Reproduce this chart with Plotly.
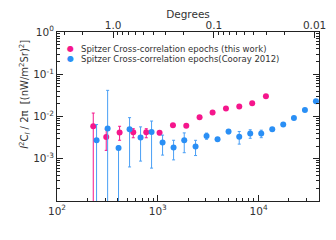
import plotly.graph_objects as go

# ---- data ----
pink_ell = [229, 308, 418, 571, 769, 1042, 1415, 1918, 2600, 3500, 4750, 6440, 8650, 11840]
pink_val = [0.00587, 0.00328, 0.00417, 0.00424, 0.00424, 0.0041, 0.0062, 0.00603,
            0.00957, 0.01236, 0.01537, 0.01714, 0.0205, 0.030]
pink_up = [0.0062, 0.0017, 0.0017, 0.0009, 0.0009, 0.0004, 0, 0, 0, 0, 0, 0, 0, 0]
pink_dn = [0.0060, 0.0017, 0.00143, 0.0011, 0.0011, 0.0004, 0, 0, 0, 0, 0, 0, 0, 0]

blue_ell = [247, 318, 408, 525, 675, 868, 1116, 1435, 1831, 2371, 3048, 3920, 5039,
            6433, 8270, 10640, 13680, 17580, 22450, 28860, 37100]
blue_val = [0.00274, 0.00518, 0.0018, 0.00499, 0.00318, 0.0043, 0.00242, 0.00184,
            0.00274, 0.00196, 0.00347, 0.0029, 0.0044, 0.00332, 0.00395, 0.00395,
            0.00499, 0.00647, 0.00922, 0.01425, 0.0229]
blue_up = [0.0037, 0.0364, 0.0002, 0.0044, 0.0025, 0.0035, 0.0012, 0.0009, 0.00135,
           0.00077, 0.00058, 0, 0.0005, 0.0011, 0.0009, 0.0008, 0.0004, 0, 0, 0, 0]
blue_dn = [0.0030, 0.0060, 0.0020, 0.00435, 0.0023, 0.0037, 0.0012, 0.0009, 0.00135,
           0.00077, 0.00058, 0, 0.0005, 0.0011, 0.0009, 0.0008, 0.0004, 0, 0, 0, 0]

legend_labels = ["Spitzer Cross-correlation epochs (this work)",
                 "Spitzer Cross-correlation epochs(Cooray 2012)"]

x_ticks = [100, 1000, 10000]
x_ticktext = ["10<sup>2</sup>", "10<sup>3</sup>", "10<sup>4</sup>"]
y_ticks = [1e-3, 1e-2, 1e-1, 1]
y_ticktext = ["10<sup>-3</sup>", "10<sup>-2</sup>", "10<sup>-1</sup>", "10<sup>0</sup>"]
deg_ticks = [1.0, 0.1, 0.01]
deg_ticktext = ["1.0", "0.1", "0.01"]

PINK = "#f5168c"
BLUE = "#2a8ff5"
FONT = "DejaVu Sans"
TXT = "#333333"

x_minor = [m * 10 ** e for e in (2, 3, 4) for m in range(2, 10) if m * 10 ** e < 40000]
y_minor = [m * 10.0 ** e for e in (-4, -3, -2, -1) for m in range(2, 10)]
deg_minor = [360.0 / (m * 10.0 ** e) for e in (-2, -1, 0) for m in range(2, 10)
             if 100 < 360.0 / (m * 10.0 ** e) < 39800]

fig = go.Figure()

fig.add_trace(go.Scatter(
    x=pink_ell, y=pink_val, mode="markers",
    marker=dict(color=PINK, size=6),
    error_y=dict(type="data", symmetric=False, array=pink_up, arrayminus=pink_dn,
                 color=PINK, thickness=1, width=1.5),
    showlegend=False))

fig.add_trace(go.Scatter(
    x=blue_ell, y=blue_val, mode="markers",
    marker=dict(color=BLUE, size=6),
    error_y=dict(type="data", symmetric=False, array=blue_up, arrayminus=blue_dn,
                 color="#4a9ff5", thickness=1, width=1.5),
    showlegend=False))

# invisible trace to activate top axis
fig.add_trace(go.Scatter(x=[1000], y=[1e-2], xaxis="x2", mode="markers",
                         marker=dict(opacity=0), showlegend=False, hoverinfo="skip"))

xr = [2, 4.6]
fig.update_layout(
    width=328, height=232,
    margin=dict(l=49, r=17, t=24, b=39, autoexpand=False),
    paper_bgcolor="white", plot_bgcolor="white",
    font=dict(family=FONT, size=10.5, color=TXT),
    xaxis=dict(type="log", range=xr, tickmode="array", tickvals=x_ticks,
               ticktext=x_ticktext, ticks="inside", ticklen=6, tickcolor="#222",
               showline=True, linecolor="#222", linewidth=1, mirror=True,
               showgrid=False, zeroline=False, automargin=False,
               minor=dict(tickmode="array", tickvals=x_minor, ticks="inside",
                          ticklen=3, tickcolor="#222", showgrid=False),
               tickfont=dict(family=FONT, size=10.5, color=TXT)),
    xaxis2=dict(type="log", range=xr, overlaying="x", side="top", anchor="y",
                tickmode="array", tickvals=[360.0 / d for d in deg_ticks],
                ticktext=deg_ticktext, ticks="inside", ticklen=6, tickcolor="#222",
                showgrid=False, zeroline=False, showline=False, automargin=False,
                ticklabeloverflow="allow",
                minor=dict(tickmode="array", tickvals=deg_minor, ticks="inside",
                           ticklen=3, tickcolor="#222", showgrid=False),
                title=dict(text="Degrees", font=dict(family=FONT, size=10.5, color=TXT),
                           standoff=0),
                tickfont=dict(family=FONT, size=10.5, color=TXT)),
    yaxis=dict(type="log", range=[-4, 0], tickmode="array", tickvals=y_ticks,
               ticktext=y_ticktext, ticks="inside", ticklen=6, tickcolor="#222",
               showline=True, linecolor="#222", linewidth=1, mirror="ticks",
               showgrid=False, zeroline=False, automargin=False,
               minor=dict(tickmode="array", tickvals=y_minor, ticks="inside",
                          ticklen=3, tickcolor="#222", showgrid=False),
               tickfont=dict(family=FONT, size=10.5, color=TXT)),
    showlegend=False,
)

# y-axis title as rotated annotation
fig.add_annotation(
    text="<i>l</i><sup>2</sup>C<sub><i>l</i></sub> / 2π  [(nW/m<sup>2</sup>Sr)<sup>2</sup>]",
    xref="paper", yref="paper", x=-0.125, y=0.63, textangle=-90,
    showarrow=False, font=dict(family=FONT, size=10, color=TXT),
    xanchor="center", yanchor="middle")

# legend as annotations
leg_y = [0.90, 0.842]
for lab, col, yy in zip(legend_labels, [PINK, BLUE], leg_y):
    fig.add_annotation(text="●", xref="paper", yref="paper", x=0.053, y=yy,
                       showarrow=False, font=dict(family=FONT, size=8, color=col),
                       xanchor="center", yanchor="middle")
    fig.add_annotation(text=lab, xref="paper", yref="paper", x=0.083, y=yy,
                       showarrow=False, font=dict(family=FONT, size=8.5, color=TXT),
                       xanchor="left", yanchor="middle")

fig.write_html("out.html")
